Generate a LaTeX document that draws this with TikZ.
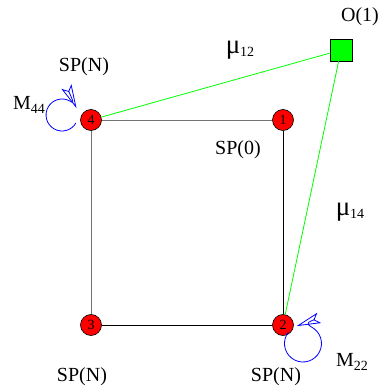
\documentclass[tikz,border=0pt]{standalone}
\usepackage{fontspec}
\setmainfont{Liberation Serif}
\usetikzlibrary{arrows.meta}
\newcommand{\lbl}[2]{#1\raisebox{-0.45ex}{\fontsize{14}{14}\selectfont #2}}
\newcommand{\mulbl}[1]{{\fontsize{27}{27}\selectfont μ}\raisebox{-0.3ex}{\fontsize{14}{14}\selectfont #1}}
\begin{document}
\begin{tikzpicture}[x=1pt,y=-1pt,
  state/.style={circle,draw=black,fill=red,minimum size=21pt,inner sep=0pt,font=\fontsize{14}{14}\selectfont,line width=0.6pt},
  outer/.style={rectangle,draw=black,fill=green,minimum size=22pt,inner sep=0pt,line width=0.6pt},
  txt/.style={font=\fontsize{20}{20}\selectfont,inner sep=0pt},
  edgeg/.style={black!55,line width=0.9pt},
  edgeb/.style={black,line width=0.9pt},
  edgegr/.style={green,line width=0.8pt},
  loopst/.style={blue,line width=0.8pt,-{Stealth[open,length=24pt,width=11pt,inset=5pt]}}]
\useasboundingbox (0,0) rectangle (386,385);
\node[state] (n4) at (91,120) {4};
\node[state] (n1) at (283,120) {1};
\node[state] (n3) at (91,325) {3};
\node[state] (n2) at (283,325) {2};
\node[outer] (o) at (341,50) {};
\draw[edgeg] (n4) -- (n1);
\draw[edgeg] (n4) -- (n3);
\draw[edgeb] (n1) -- (n2);
\draw[edgeb] (n3) -- (n2);
\draw[edgegr] (n4) -- (o);
\draw[edgegr] (o) -- (n2);
\draw[loopst] ([shift={(-15.1,3)}]n4.center) arc[start angle=30,end angle=335,radius=16];
\draw[loopst] ([shift={(5.4,7.1)}]n2.center) arc[start angle=218,end angle=-110,radius=18.5];
\node[txt] (tO) at (360,17) {O(1)};
\node[txt] (tsp4) at (84,67) {SP(N)};
\node[txt] (tm44) at (29,105) {\lbl{M}{44}};
\node[txt] (tmu12) at (240,50) {\mulbl{12}};
\node[txt] (tmu14) at (350,212) {\mulbl{14}};
\node[txt] (tsp0) at (238,150) {SP(0)};
\node[txt] (tsp3) at (82,377) {SP(N)};
\node[txt] (tsp2) at (276,377) {SP(N)};
\node[txt] (tm22) at (352,362) {\lbl{M}{22}};
\end{tikzpicture}
\end{document}
